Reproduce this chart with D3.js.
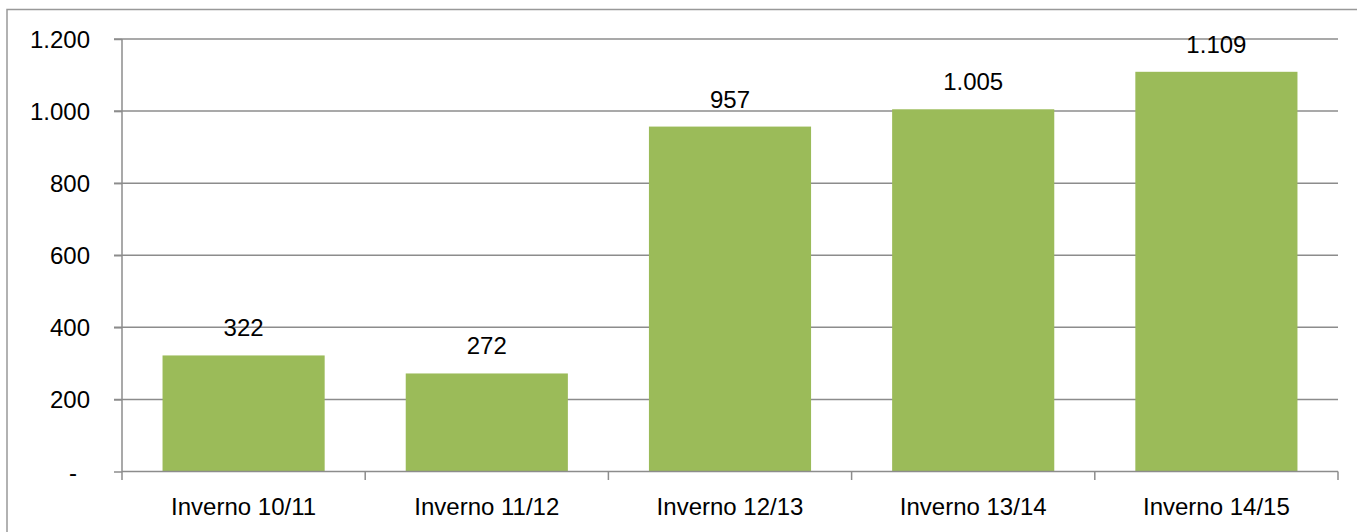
<!DOCTYPE html>
<html><head><meta charset="utf-8">
<script src="https://cdn.jsdelivr.net/npm/d3@7"></script>
<style>body{margin:0;background:#fff}svg{display:block}text{font-family:"Liberation Sans",Arial,sans-serif;fill:#000}</style>
</head><body>
<svg id="c" width="1357" height="532"></svg>
<script>
const categories = ["Inverno 10/11","Inverno 11/12","Inverno 12/13","Inverno 13/14","Inverno 14/15"];
const values = [322, 272, 957, 1005, 1109];
const yTicks = [0, 200, 400, 600, 800, 1000, 1200];

const W = 1357, H = 532;
const m = {left:122, right:19, top:39, bottom:60.5};
const FS = "24px";
const svg = d3.select("#c");
const loc = d3.formatLocale({decimal:",", thousands:".", grouping:[3], currency:["€",""]});
const fmt = loc.format(",d");

// outer frame
svg.append("rect").attr("x",7).attr("y",9.5).attr("width",W+10).attr("height",H+10)
  .attr("fill","none").attr("stroke","#999").attr("stroke-width",1.5);

const x = d3.scaleBand().domain(categories).range([m.left, W - m.right]).paddingInner(1/3).paddingOuter(1/6);
const y = d3.scaleLinear().domain([0,1200]).range([H - m.bottom, m.top]);

// gridlines
svg.append("g").selectAll("line").data(yTicks.filter(d=>d>0)).join("line")
  .attr("x1",114).attr("x2",W - m.right).attr("y1",d=>y(d)).attr("y2",d=>y(d))
  .attr("stroke","#8c8c8c").attr("stroke-width",1.5);

// bars
svg.append("g").selectAll("rect").data(values).join("rect")
  .attr("x",(d,i)=>x(categories[i])).attr("width",x.bandwidth())
  .attr("y",d=>y(d)).attr("height",d=>y(0)-y(d)).attr("fill","#9BBB59");

// y axis
const ya = d3.axisLeft(y).tickValues(yTicks).tickSize(8).tickFormat(d=>d===0?"-":fmt(d));
const gy = svg.append("g").attr("transform",`translate(${m.left},0)`).call(ya);
gy.select(".domain").remove();
gy.selectAll(".tick line").attr("stroke","#8c8c8c").attr("stroke-width",1.5);
gy.selectAll(".tick text").attr("x",-32).attr("dy",null).attr("y",8.5)
  .style("font-size",FS).attr("fill","#000")
  .attr("dx",d=>d===0?-13:0);
gy.append("line").attr("x1",0).attr("x2",0).attr("y1",m.top).attr("y2",y(0)+8.5)
  .attr("stroke","#8c8c8c").attr("stroke-width",1.5);

// x axis
const bounds = d3.range(categories.length+1).map(i=>m.left + i*x.step());
const gx = svg.append("g");
gx.append("line").attr("x1",m.left).attr("x2",W-m.right).attr("y1",y(0)).attr("y2",y(0))
  .attr("stroke","#8c8c8c").attr("stroke-width",1.5);
gx.selectAll("line.t").data(bounds.slice(1)).join("line").attr("class","t")
  .attr("x1",d=>d).attr("x2",d=>d).attr("y1",y(0)).attr("y2",y(0)+8.5)
  .attr("stroke","#8c8c8c").attr("stroke-width",1.5);
gx.selectAll("text").data(categories).join("text")
  .attr("x",d=>x(d)+x.bandwidth()/2).attr("y",514.5).attr("text-anchor","middle")
  .style("font-size",FS).text(d=>d);

// value labels
svg.append("g").selectAll("text").data(values).join("text")
  .attr("x",(d,i)=>x(categories[i])+x.bandwidth()/2).attr("y",d=>y(d)-19)
  .attr("text-anchor","middle").style("font-size",FS).text(d=>fmt(d));
</script>
</body></html>
